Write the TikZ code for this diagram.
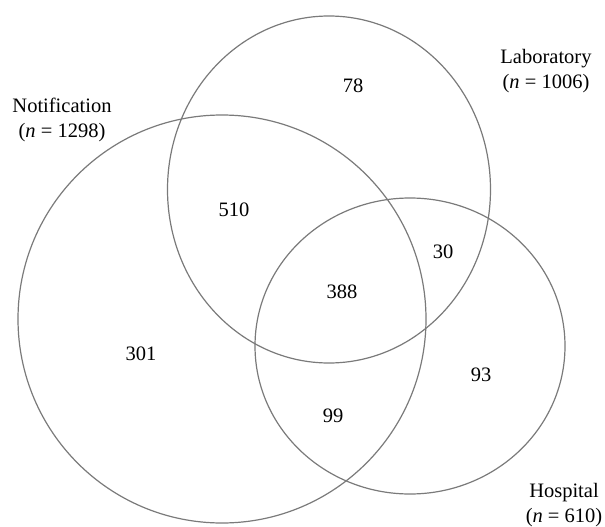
\documentclass[tikz,border=0pt]{standalone}
\usepackage{fontspec}
\setmainfont{Liberation Serif}
\begin{document}
\begin{tikzpicture}[x=1pt,y=-1pt,
  setline/.style={draw=black!52,line width=1.2pt},
  num/.style={font=\fontsize{20.5}{24}\selectfont,inner sep=0pt},
  setlabel/.style={font=\fontsize{20.5}{25.5}\selectfont,align=center,inner sep=0pt}]
\useasboundingbox (0,0) rectangle (605,527);
% sets
\draw[setline] (222,319) ellipse [x radius=204, y radius=204];
\draw[setline] (329,189.5) ellipse [x radius=161.5, y radius=173.5];
\draw[setline] (410,346) ellipse [x radius=155, y radius=148];
% set labels
\node[setlabel] (notif) at (62,120) {Notification\\(\textit{n} = 1298)};
\node[setlabel] (lab) at (546,71) {Laboratory\\(\textit{n} = 1006)};
\node[setlabel] (hosp) at (564,505) {Hospital\\(\textit{n} = 610)};
% counts
\node[num] (n78) at (353,86) {78};
\node[num] (n510) at (234,210) {510};
\node[num] (n30) at (443,252) {30};
\node[num] (n388) at (342,292) {388};
\node[num] (n301) at (141,354) {301};
\node[num] (n93) at (481,375) {93};
\node[num] (n99) at (333,416) {99};
\end{tikzpicture}
\end{document}
